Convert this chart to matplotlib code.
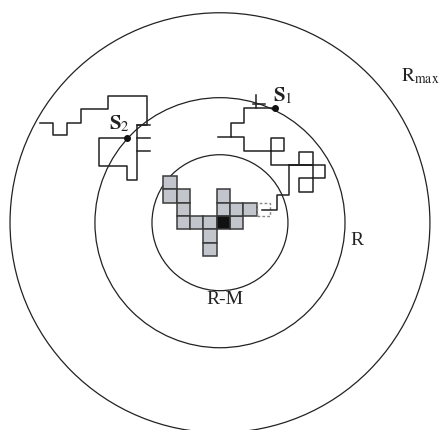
import matplotlib
matplotlib.use('Agg')
import matplotlib.pyplot as plt
from matplotlib.patches import Circle, Rectangle

# --- DATEN ---
# Gitterzellen (Spalte, Zeile) relativ zur schwarzen Startzelle
zellen_x = [-4, -4, -3, -3, -3, -2, -1, 1, 0, 0, 1, 2, -1, -1]
zellen_y = [3, 2, 2, 1, 0, 0, 0, 0, 2, 1, 1, 1, -1, -2]
start_zelle = (0, 0)
offene_zelle = (3, 1)

# Kreise: Mittelpunkt und Radien in Gittereinheiten
kreis_mitte = (-0.25, 0.0)
radien = [15.75, 9.38, 5.1]

# Irrfahrt 1 (von S1 nach innen)
weg1_x = [3.88, 1.58, 1.58, 0.55, 0.55, 1.58, 1.58, 4.55, 4.55, 3.58, 3.58, 7.63, 7.63,
          5.68, 5.68, 6.73, 6.73, 4.95, 4.95, 4.0, 4.0, 2.88]
weg1_y = [8.58, 8.58, 7.46, 7.46, 6.45, 6.45, 5.38, 5.38, 6.33, 6.33, 4.33, 4.33, 3.33,
          3.33, 2.33, 2.33, 4.33, 4.33, 2.08, 2.08, 0.95, 0.95]
# Sackgassen an Weg 1
stummel1 = [([2.45, 2.45], [8.58, 9.58]), ([2.25, 3.13], [8.9, 8.9]),
            ([-0.38, 0.55], [6.45, 6.45]), ([5.68, 5.68, 6.73, 6.73], [4.33, 5.33, 5.33, 4.33])]

# Irrfahrt 2 (S2)
weg2_x = [-13.75, -12.75, -12.75, -11.75, -11.75, -10.7, -10.7, -8.63, -8.63, -5.7, -5.7,
          -6.5, -6.5, -7.25, -7.25, -9.3, -9.3, -7.25]
weg2_y = [7.5, 7.5, 6.58, 6.58, 7.5, 7.5, 8.5, 8.5, 9.53, 9.53, 7.33, 7.33, 3.2, 3.2,
          4.25, 4.25, 6.33, 6.33]
stummel2 = [([-6.5, -5.5], [7.33, 7.33]), ([-6.5, -5.5], [6.33, 6.33]),
            ([-6.5, -5.5], [5.38, 5.38])]

# --- GRAFIK ---
fig = plt.figure(figsize=(4.45, 4.30), dpi=100)
ax = fig.add_axes([0, 0, 1, 1])
plt.rcParams['mathtext.fontset'] = 'stix'

einheit = 13.33
ax.set_xlim(-223.3 / einheit, (445 - 223.3) / einheit)
ax.set_ylim(-(430 - 222.7) / einheit, 222.7 / einheit)
ax.axis('off')

for r in radien:
    ax.add_patch(Circle(kreis_mitte, r, fill=False, edgecolor='#222222', linewidth=0.9))

# Zellen zeichnen
for cx, cy in zip(zellen_x, zellen_y):
    ax.add_patch(Rectangle((cx - 0.5, cy - 0.5), 1, 1, facecolor='#c2c5cc',
                           edgecolor='#3a3a3a', linewidth=1.1))
ax.add_patch(Rectangle((start_zelle[0] - 0.5, start_zelle[1] - 0.5), 1, 1,
                       facecolor='#111111', edgecolor='#3a3a3a', linewidth=1.1))
ax.add_patch(Rectangle((offene_zelle[0] - 0.5, offene_zelle[1] - 0.5), 1, 1,
                       facecolor='none', edgecolor='#888888', linewidth=1.0, linestyle=(0, (2, 1.5))))

# Irrfahrten
ax.plot(weg1_x, weg1_y, color='#222222', linewidth=1.1)
for sx, sy in stummel1:
    ax.plot(sx, sy, color='#222222', linewidth=1.1)
ax.plot(weg2_x, weg2_y, color='#222222', linewidth=1.1)
for sx, sy in stummel2:
    ax.plot(sx, sy, color='#222222', linewidth=1.1)

# Punkte S1 und S2
ax.plot([weg1_x[0]], [weg1_y[0]], 'o', color='#111111', markersize=4)
ax.plot([weg2_x[-1]], [weg2_y[-1]], 'o', color='#111111', markersize=4)

# Beschriftungen
ax.text(4.45, 9.55, r'$\mathbf{S}_1$', fontsize=15, ha='center', va='center', color='#222222')
ax.text(-7.8, 7.45, r'$\mathbf{S}_2$', fontsize=15, ha='center', va='center', color='#222222')
ax.text(13.3, 11.0, r'$\mathrm{R}_{\mathrm{max}}$', fontsize=14, ha='left', va='center', color='#222222')
ax.text(10.05, -1.3, 'R', fontsize=14, family='Liberation Serif', ha='center', va='center', color='#222222')
ax.text(0.1, -5.75, 'R-M', fontsize=14, family='Liberation Serif', ha='center', va='center', color='#222222')

plt.savefig('out.png', dpi=100)
